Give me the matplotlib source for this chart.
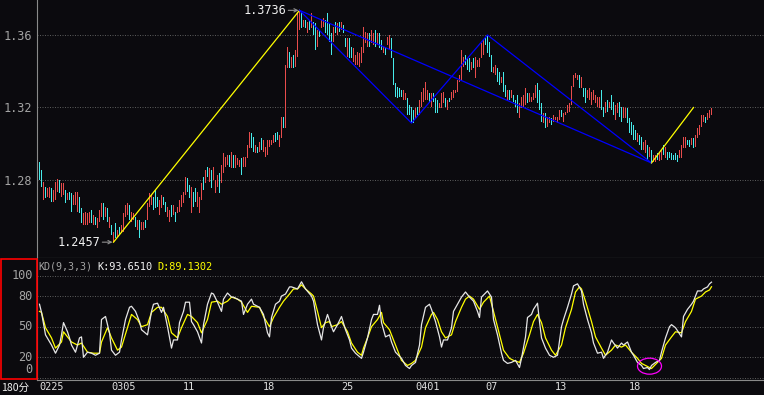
import matplotlib
matplotlib.use("Agg")
import matplotlib.pyplot as plt
import matplotlib.transforms as mtransforms
from matplotlib.patches import Ellipse, Rectangle

# ---- 180-minute bars (high / low per bar) ----
bar_high = [
    1.2899, 1.2855, 1.2789, 1.2761, 1.2756, 1.2761, 1.2756, 1.2745, 1.2789, 1.2806,
    1.2800, 1.2783, 1.2783, 1.2745, 1.2728, 1.2734, 1.2728, 1.2717, 1.2734, 1.2734,
    1.2706, 1.2645, 1.2618, 1.2623, 1.2618, 1.2623, 1.2634, 1.2607, 1.2596, 1.2590,
    1.2634, 1.2673, 1.2673, 1.2651, 1.2645, 1.2596, 1.2552, 1.2513, 1.2563, 1.2524,
    1.2541, 1.2552, 1.2618, 1.2662, 1.2673, 1.2662, 1.2623, 1.2618, 1.2596, 1.2579,
    1.2579, 1.2568, 1.2568, 1.2579, 1.2673, 1.2728, 1.2717, 1.2706, 1.2745, 1.2706,
    1.2690, 1.2717, 1.2706, 1.2679, 1.2651, 1.2634, 1.2662, 1.2662, 1.2623, 1.2651,
    1.2690, 1.2717, 1.2734, 1.2817, 1.2811, 1.2772, 1.2761, 1.2734, 1.2756, 1.2734,
    1.2706, 1.2783, 1.2817, 1.2855, 1.2872, 1.2866, 1.2855, 1.2872,
    1.2800, 1.2828, 1.2839, 1.2883, 1.2949, 1.2927, 1.2938, 1.2938, 1.2954, 1.2938,
    1.2938, 1.2921, 1.2910, 1.2921, 1.2927, 1.2927, 1.2993, 1.3065, 1.3059, 1.3037,
    1.2993, 1.2982, 1.3010, 1.3032, 1.3021, 1.2982, 1.3021, 1.3021, 1.3021, 1.3048,
    1.3059, 1.3065, 1.3048, 1.3148, 1.3148,
    1.3434, 1.3534, 1.3506, 1.3479, 1.3490, 1.3517, 1.3727, 1.3736, 1.3727, 1.3683,
    1.3683, 1.3672, 1.3683, 1.3721, 1.3672, 1.3666, 1.3627, 1.3627, 1.3683, 1.3694,
    1.3683, 1.3721, 1.3666, 1.3611, 1.3644, 1.3672, 1.3666, 1.3672, 1.3672, 1.3655,
    1.3583, 1.3583, 1.3583, 1.3534, 1.3528, 1.3490, 1.3506, 1.3501, 1.3534, 1.3644,
    1.3616, 1.3611, 1.3611, 1.3627, 1.3611, 1.3627, 1.3611, 1.3611, 1.3572, 1.3534,
    1.3534, 1.3589, 1.3600, 1.3583, 1.3473, 1.3335, 1.3313, 1.3308, 1.3296, 1.3296,
    1.3280, 1.3252, 1.3214, 1.3203, 1.3186, 1.3197, 1.3203, 1.3241, 1.3285, 1.3308,
    1.3341, 1.3296, 1.3280, 1.3280, 1.3280, 1.3252, 1.3241, 1.3225, 1.3280, 1.3285,
    1.3252, 1.3241, 1.3252, 1.3285, 1.3296, 1.3296, 1.3352, 1.3379, 1.3517, 1.3479,
    1.3490, 1.3473, 1.3473, 1.3451, 1.3473, 1.3479, 1.3462, 1.3473, 1.3556, 1.3572,
    1.3583, 1.3600, 1.3561, 1.3490, 1.3423, 1.3434, 1.3418, 1.3396, 1.3368, 1.3396,
    1.3324, 1.3296, 1.3296, 1.3296, 1.3269, 1.3241, 1.3269, 1.3225,
    1.3258, 1.3269, 1.3308, 1.3280, 1.3280, 1.3258, 1.3280, 1.3324, 1.3335, 1.3296,
    1.3225, 1.3170, 1.3170, 1.3148, 1.3148, 1.3142, 1.3159, 1.3148, 1.3148, 1.3186,
    1.3186, 1.3170, 1.3175, 1.3214, 1.3225, 1.3319, 1.3379, 1.3390, 1.3379, 1.3379,
    1.3368, 1.3308, 1.3308, 1.3296, 1.3308, 1.3285, 1.3296, 1.3269, 1.3258, 1.3258,
    1.3296, 1.3203, 1.3230, 1.3241, 1.3230, 1.3269, 1.3230, 1.3214, 1.3225, 1.3230,
    1.3203, 1.3203, 1.3197, 1.3197, 1.3142, 1.3120, 1.3103, 1.3076, 1.3059, 1.3048,
    1.3037, 1.3010, 1.3021, 1.2993, 1.2982, 1.2965, 1.2938, 1.2938, 1.2949, 1.2949,
    1.2965, 1.2993, 1.2982, 1.2954, 1.2954, 1.2949, 1.2938, 1.2949, 1.2938, 1.2965,
    1.2993, 1.3037, 1.3037, 1.3021, 1.3021, 1.3032, 1.3032, 1.3048, 1.3087, 1.3103,
    1.3159, 1.3159, 1.3148, 1.3170, 1.3186, 1.3197,
]
bar_low = [
    1.2800, 1.2761, 1.2690, 1.2701, 1.2706, 1.2701, 1.2679, 1.2679, 1.2690, 1.2734,
    1.2728, 1.2706, 1.2717, 1.2673, 1.2690, 1.2690, 1.2623, 1.2662, 1.2662, 1.2623,
    1.2618, 1.2563, 1.2552, 1.2552, 1.2552, 1.2563, 1.2563, 1.2552, 1.2552, 1.2535,
    1.2568, 1.2596, 1.2579, 1.2596, 1.2568, 1.2535, 1.2496, 1.2457, 1.2480, 1.2485,
    1.2496, 1.2507, 1.2513, 1.2596, 1.2607, 1.2579, 1.2568, 1.2579, 1.2541, 1.2524,
    1.2480, 1.2524, 1.2524, 1.2535, 1.2579, 1.2651, 1.2662, 1.2634, 1.2645, 1.2651,
    1.2607, 1.2645, 1.2662, 1.2623, 1.2596, 1.2568, 1.2596, 1.2607, 1.2568, 1.2618,
    1.2623, 1.2651, 1.2673, 1.2717, 1.2734, 1.2701, 1.2618, 1.2651, 1.2679, 1.2651,
    1.2618, 1.2690, 1.2745, 1.2783, 1.2817, 1.2789, 1.2756, 1.2800,
    1.2728, 1.2761, 1.2728, 1.2783, 1.2839, 1.2872, 1.2883, 1.2872, 1.2866, 1.2866,
    1.2866, 1.2883, 1.2872, 1.2828, 1.2872, 1.2872, 1.2921, 1.2977, 1.2977, 1.2954,
    1.2949, 1.2949, 1.2954, 1.2965, 1.2954, 1.2927, 1.2938, 1.2982, 1.2993, 1.3004,
    1.3010, 1.3021, 1.2982, 1.3032, 1.3087,
    1.3087, 1.3418, 1.3418, 1.3418, 1.3418, 1.3423, 1.3479, 1.3627, 1.3638, 1.3644,
    1.3638, 1.3611, 1.3627, 1.3638, 1.3600, 1.3517, 1.3534, 1.3589, 1.3638, 1.3644,
    1.3611, 1.3600, 1.3561, 1.3490, 1.3561, 1.3611, 1.3600, 1.3616, 1.3627, 1.3611,
    1.3534, 1.3479, 1.3473, 1.3473, 1.3451, 1.3434, 1.3434, 1.3423, 1.3445, 1.3501,
    1.3556, 1.3534, 1.3534, 1.3556, 1.3545, 1.3534, 1.3545, 1.3528, 1.3517, 1.3501,
    1.3490, 1.3545, 1.3517, 1.3473, 1.3324, 1.3258, 1.3252, 1.3258, 1.3258, 1.3241,
    1.3241, 1.3159, 1.3159, 1.3114, 1.3114, 1.3142, 1.3159, 1.3159, 1.3203, 1.3230,
    1.3241, 1.3241, 1.3225, 1.3203, 1.3230, 1.3170, 1.3170, 1.3197, 1.3197, 1.3225,
    1.3203, 1.3186, 1.3230, 1.3241, 1.3252, 1.3280, 1.3285, 1.3341, 1.3352, 1.3423,
    1.3434, 1.3407, 1.3396, 1.3407, 1.3418, 1.3363, 1.3423, 1.3423, 1.3473, 1.3490,
    1.3545, 1.3501, 1.3479, 1.3396, 1.3390, 1.3379, 1.3341, 1.3324, 1.3335, 1.3285,
    1.3258, 1.3241, 1.3241, 1.3252, 1.3230, 1.3203, 1.3170, 1.3142,
    1.3197, 1.3203, 1.3214, 1.3225, 1.3230, 1.3230, 1.3241, 1.3252, 1.3225, 1.3186,
    1.3120, 1.3114, 1.3087, 1.3092, 1.3114, 1.3103, 1.3120, 1.3131, 1.3114, 1.3131,
    1.3148, 1.3120, 1.3159, 1.3170, 1.3175, 1.3214, 1.3313, 1.3363, 1.3352, 1.3308,
    1.3308, 1.3258, 1.3225, 1.3252, 1.3241, 1.3214, 1.3241, 1.3225, 1.3203, 1.3197,
    1.3186, 1.3148, 1.3170, 1.3175, 1.3197, 1.3186, 1.3159, 1.3131, 1.3170, 1.3148,
    1.3120, 1.3142, 1.3142, 1.3114, 1.3059, 1.3048, 1.3021, 1.3021, 1.3010, 1.2993,
    1.2965, 1.2965, 1.2949, 1.2910, 1.2927, 1.2894, 1.2899, 1.2899, 1.2910, 1.2905,
    1.2910, 1.2938, 1.2921, 1.2910, 1.2921, 1.2910, 1.2910, 1.2910, 1.2899, 1.2921,
    1.2921, 1.2977, 1.2977, 1.2993, 1.2982, 1.2993, 1.2977, 1.2982, 1.3032, 1.3048,
    1.3092, 1.3120, 1.3114, 1.3131, 1.3142, 1.3159,
]
# R = up bar (red), C = down bar (cyan)
bar_dir = (
    "CCRCRRCRRR" "CRRCRCCRRR" "CCRRRRCRCR" "RRCRCRCRCR" "CRRRRCRRCR"
    "CRRCRRRCCC" "RRCCRRCRCR" "RRRRCCRCCR" "RRCRCRCR"
    "RRCRRRRCRC" "RRRCRRRRCC" "RCRCRRRRRR" "CCRRC"
    "RRCRCRRRCR" "CRCRCCRCRR" "CCCCRCRCRC" "CRCCRRRRRR" "RRCRRCRCCR"
    "CRRCCCCCCR" "RCCCCRCRRR" "RRCRCCCRRR" "CRCRRRRRRR" "CCCRCRRRRR"
    "CCCCRRCCRC" "CRCRCCCR"
    "RRRCRRRRCC" "CRCRRCRRRR"
    "CRRRRRRRRC" "RCCRRRRRRR" "CCRCRCCRRC" "CRRCCCCCRC" "CRRCRCRRCR"
    "RCRCCCCCCR" "RRRCCRCRRR" "RRCRRR"
)

# ---- KD(9,3,3): (bar index, value) ----
k_points = [
    (0, 72), (1, 64), (3, 42), (6, 32), (8, 24), (10, 32), (11, 42), (12, 54), (14, 45), (15, 39),
    (16, 32), (18, 25), (20, 39), (21, 40), (22, 20), (24, 25), (26, 24), (28, 22), (30, 24), (31, 57),
    (33, 60), (35, 44), (36, 27), (38, 22), (40, 25), (41, 37), (43, 57), (45, 69), (46, 70), (48, 65),
    (50, 55), (51, 47), (54, 42), (56, 65), (57, 72), (59, 73), (61, 64), (62, 69), (64, 50), (66, 29),
    (67, 37), (69, 37), (70, 54), (72, 65), (73, 74), (75, 74), (76, 55), (77, 52), (79, 45), (81, 34),
    (82, 52), (84, 72), (86, 83), (87, 82), (89, 74), (91, 65), (92, 77), (94, 83), (96, 79), (97, 79),
    (99, 77), (101, 75), (102, 62), (104, 72), (106, 77), (107, 72), (110, 69), (112, 62), (114, 44), (115, 40),
    (116, 59), (118, 72), (120, 75), (121, 80), (123, 82), (125, 89), (126, 89), (129, 87), (131, 94), (133, 87),
    (136, 80), (137, 75), (139, 52), (141, 37), (142, 49), (144, 62), (146, 50), (147, 45), (149, 52), (151, 60),
    (153, 47), (155, 37), (156, 29), (158, 24), (161, 19), (162, 25), (164, 39), (166, 57), (167, 62), (169, 62),
    (170, 71), (171, 54), (173, 40), (175, 42), (176, 35), (178, 25), (181, 19), (183, 12), (185, 9), (186, 12),
    (188, 15), (190, 32), (191, 52), (193, 69), (195, 72), (196, 67), (198, 55), (200, 40), (201, 30), (202, 37),
    (204, 37), (206, 49), (207, 65), (209, 72), (211, 79), (213, 84), (215, 79), (217, 75), (219, 65), (220, 59),
    (221, 79), (224, 85), (226, 79), (227, 57), (229, 42), (231, 24), (232, 17), (234, 14), (236, 15), (238, 17),
    (240, 10), (241, 19), (243, 40), (244, 59), (246, 62), (247, 67), (249, 73), (250, 55), (251, 39), (253, 29),
    (255, 22), (257, 20), (259, 22), (261, 50), (262, 57), (264, 69), (266, 82), (267, 90), (269, 92), (271, 85),
    (272, 72), (274, 57), (276, 44), (277, 34), (279, 24), (281, 25), (282, 19), (284, 25), (286, 37), (287, 34),
    (289, 29), (291, 34), (292, 32), (294, 35), (296, 25), (297, 22), (299, 15), (301, 12), (302, 9), (304, 10),
    (305, 8), (306, 12), (308, 15), (310, 17), (311, 25), (313, 39), (315, 50), (316, 52), (318, 49), (321, 40),
    (322, 60), (324, 67), (326, 72), (327, 75), (329, 85), (331, 85), (332, 87), (334, 89), (335, 92), (336, 93.65),
]
d_points = [
    (0, 65), (1, 64), (3, 49), (6, 39), (8, 29), (11, 35), (12, 45), (14, 40), (16, 35), (19, 32),
    (21, 34), (24, 25), (27, 24), (30, 24), (31, 35), (34, 49), (36, 39), (39, 27), (41, 30), (44, 49),
    (46, 62), (49, 57), (51, 50), (54, 52), (56, 64), (59, 69), (61, 69), (64, 60), (66, 44), (69, 39),
    (71, 49), (74, 62), (76, 60), (79, 54), (81, 44), (84, 57), (86, 74), (89, 75), (91, 72), (94, 75),
    (96, 79), (99, 77), (101, 74), (104, 64), (106, 70), (110, 69), (112, 60), (115, 50), (117, 59), (120, 69),
    (122, 75), (125, 82), (127, 87), (129, 87), (131, 91), (133, 87), (136, 82), (137, 80), (139, 65), (141, 49),
    (143, 54), (145, 55), (146, 50), (149, 52), (151, 55), (154, 45), (156, 34), (159, 25), (161, 22), (162, 29),
    (164, 39), (166, 50), (169, 57), (171, 64), (172, 54), (175, 47), (176, 42), (179, 27), (181, 17), (184, 12),
    (186, 14), (188, 17), (191, 30), (193, 49), (196, 62), (197, 64), (199, 57), (201, 45), (203, 39), (206, 42),
    (208, 55), (211, 69), (213, 77), (215, 80), (217, 77), (220, 67), (222, 74), (225, 80), (227, 65), (230, 42),
    (232, 27), (235, 19), (237, 17), (240, 15), (242, 24), (245, 42), (247, 55), (249, 62), (251, 54), (253, 39),
    (256, 27), (258, 22), (261, 32), (263, 49), (266, 67), (268, 84), (270, 89), (271, 87), (273, 75), (276, 55),
    (278, 40), (281, 29), (283, 22), (286, 27), (288, 32), (291, 30), (293, 32), (296, 25), (299, 19), (301, 14),
    (304, 11), (306, 9), (308, 13), (311, 19), (313, 32), (316, 40), (318, 45), (321, 44), (323, 55), (326, 65),
    (328, 77), (331, 80), (333, 84), (335, 86), (336, 89.13),
]
k_last, d_last = 93.6510, 89.1302

date_pos = [0, 36, 72, 112, 151, 188, 223, 258, 295]
date_text = ['0225', '0305', '11', '18', '25', '0401', '07', '13', '18']
price_ticks = [1.36, 1.32, 1.28]
kd_ticks = [100, 80, 50, 20, 0]

# hand-drawn swing lines: (bar index, price)
swing_up = [(37, 1.2457), (130, 1.3736)]
swing_zigzag = [(130, 1.3736), (186, 1.3114), (224, 1.3600), (306, 1.2894)]
swing_fan = [(130, 1.3736), (306, 1.2894)]
swing_last = [(306, 1.2894), (327, 1.3200)]

# ---- style ----
BG = '#0b0a0e'
RED = '#e84c4c'
CYAN = '#46eaea'
AXIS = '#8a8a8a'
GRID = '#585858'
LABEL = '#a4a4a4'
MONO = 'DejaVu Sans Mono'
W, H = 764, 395


def fx(x):
    return x / W


def fy(y):
    return 1 - y / H


fig = plt.figure(figsize=(W / 100, H / 100), dpi=100, facecolor=BG)
ax1 = fig.add_axes([fx(37), fy(257.5), fx(764 - 37), (257.5 - 0) / H])
ax2 = fig.add_axes([fx(37), fy(379.5), fx(764 - 37), (379.5 - 257.5) / H])

# 2 px per bar; the quarter-bar shift puts each bar on a pixel centre
for ax in (ax1, ax2):
    ax.set_facecolor(BG)
    ax.set_xlim(-1.25, 362.25)
    for s in ('top', 'right'):
        ax.spines[s].set_visible(False)
    for s in ('left', 'bottom'):
        ax.spines[s].set_color(AXIS)
        ax.spines[s].set_linewidth(0.8)
    ax.set_xticks([])

# price panel
ax1.set_ylim(1.23724, 1.37931)
for t in price_ticks:
    ax1.axhline(t, color=GRID, lw=0.72, ls=(0, (1, 1.5)), zorder=1)
ax1.set_yticks(price_ticks)
ax1.set_yticklabels([f'{t:.2f}' for t in price_ticks], fontfamily=MONO, fontsize=8.6, color=LABEL)
ax1.tick_params(axis='y', length=0, pad=3.6)

# each bar is a 1px high-low stroke
xs = list(range(len(bar_high)))
cols = [RED if c == 'R' else CYAN for c in bar_dir]
spans = [h - l for h, l in zip(bar_high, bar_low)]
ax1.bar(xs, spans, bottom=bar_low, width=0.6, color=cols, linewidth=0,
        antialiased=False, zorder=3)

for pts, col in ((swing_up, '#ffff00'), (swing_zigzag, '#0000ff'),
                 (swing_fan, '#0000ff'), (swing_last, '#ffff00')):
    ax1.plot([p[0] for p in pts], [p[1] for p in pts], color=col, lw=0.9, zorder=4)

# high / low markers
ax1.text(123.6, 1.3736, '1.3736', fontfamily=MONO, fontsize=8.6, color='#f0f0f0',
         ha='right', va='center', zorder=5)
ax1.annotate('', xy=(129.5, 1.3736), xytext=(124.4, 1.3736),
             arrowprops=dict(arrowstyle='->', color='#909090', lw=0.8,
                             shrinkA=0, shrinkB=0, mutation_scale=6))
ax1.text(30.6, 1.2457, '1.2457', fontfamily=MONO, fontsize=8.6, color='#f0f0f0',
         ha='right', va='center', zorder=5)
ax1.annotate('', xy=(36.5, 1.2457), xytext=(31.4, 1.2457),
             arrowprops=dict(arrowstyle='->', color='#909090', lw=0.8,
                             shrinkA=0, shrinkB=0, mutation_scale=6))

# KD panel
ax2.set_ylim(-1.76, 117.8)
ax2.set_yticks([])
for t in kd_ticks:
    ax2.axhline(t, color=GRID, lw=0.72, ls=(0, (1, 1.5)), zorder=1)
ax2.plot([p[0] for p in d_points], [p[1] for p in d_points], color='#ffff00', lw=0.9, zorder=3)
ax2.plot([p[0] for p in k_points], [p[1] for p in k_points], color='#e6e6e6', lw=0.9, zorder=4)
ax2.add_patch(Ellipse((305, 11.3), 12, 15.7, fill=False, edgecolor='#ff00ff', lw=0.9, zorder=5))

lbl_tr = mtransforms.blended_transform_factory(fig.transFigure, ax2.transData)
for t in kd_ticks:
    ax2.text(fx(32.5), t if t > 0 else 8.2, str(t), transform=lbl_tr, fontfamily=MONO,
             fontsize=8.6, color=LABEL, ha='right', va='center', clip_on=False)

# red selection box around the KD scale
fig.add_artist(Rectangle((fx(0.7), fy(378.8)), fx(36.3), (378.8 - 258.7) / H,
                         transform=fig.transFigure, fill=False, edgecolor='#ff0000', lw=1.2))

# KD title
fig.text(fx(38), fy(266.5), 'KD(9,3,3)', fontfamily=MONO, fontsize=7.2, color=LABEL, va='center')
fig.text(fx(97.5), fy(266.5), f'K:{k_last:.4f}', fontfamily=MONO, fontsize=7.4, color='#f2f2f2', va='center')
fig.text(fx(157), fy(266.5), f'D:{d_last:.4f}', fontfamily=MONO, fontsize=7.4, color='#ffff00', va='center')

# date axis
date_tr = mtransforms.blended_transform_factory(ax2.transData, fig.transFigure)
for p, s in zip(date_pos, date_text):
    ax2.text(p - 0.2, fy(387.5), s, transform=date_tr, fontfamily=MONO, fontsize=7.4,
             color='#e0e0e0', ha='left', va='center', clip_on=False)
fig.text(fx(1), fy(387.5), '180分', family=['Noto Sans CJK SC', 'DejaVu Sans'],
         fontsize=7.6, color='#f0f0f0', ha='left', va='center')

fig.savefig('out.png', dpi=100, facecolor=BG)
